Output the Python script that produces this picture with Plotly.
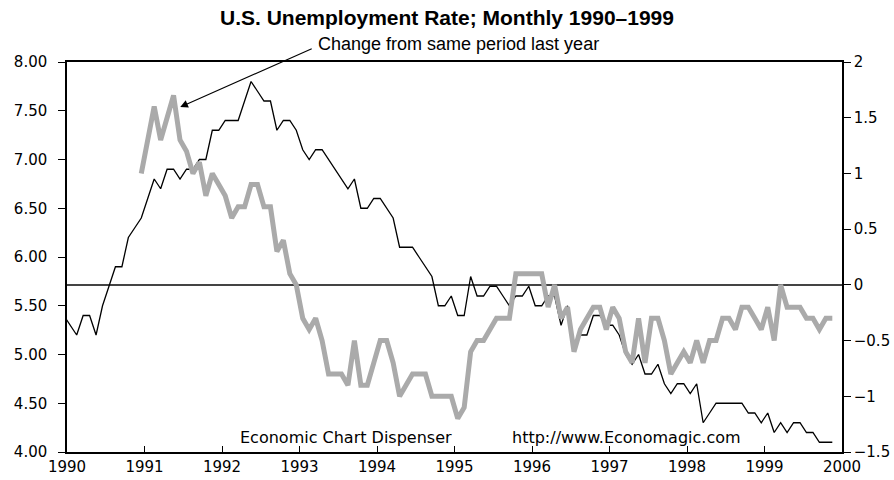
import plotly.graph_objects as go

# Monthly unemployment rate (%), Jan 1990 .. Dec 1999
rate_1990 = [5.4, 5.3, 5.2, 5.4, 5.4, 5.2, 5.5, 5.7, 5.9, 5.9, 6.2, 6.3]
rate_1991 = [6.4, 6.6, 6.8, 6.7, 6.9, 6.9, 6.8, 6.9, 6.9, 7.0, 7.0, 7.3]
rate_1992 = [7.3, 7.4, 7.4, 7.4, 7.6, 7.8, 7.7, 7.6, 7.6, 7.3, 7.4, 7.4]
rate_1993 = [7.3, 7.1, 7.0, 7.1, 7.1, 7.0, 6.9, 6.8, 6.7, 6.8, 6.5, 6.5]
rate_1994 = [6.6, 6.6, 6.5, 6.4, 6.1, 6.1, 6.1, 6.0, 5.9, 5.8, 5.5, 5.5]
rate_1995 = [5.6, 5.4, 5.4, 5.8, 5.6, 5.6, 5.7, 5.7, 5.6, 5.5, 5.6, 5.6]
rate_1996 = [5.7, 5.5, 5.5, 5.6, 5.6, 5.3, 5.5, 5.1, 5.2, 5.2, 5.4, 5.4]
rate_1997 = [5.3, 5.3, 5.2, 5.0, 4.9, 5.0, 4.8, 4.8, 4.9, 4.7, 4.6, 4.7]
rate_1998 = [4.7, 4.6, 4.7, 4.3, 4.4, 4.5, 4.5, 4.5, 4.5, 4.5, 4.4, 4.4]
rate_1999 = [4.3, 4.4, 4.2, 4.3, 4.2, 4.3, 4.3, 4.2, 4.2, 4.1, 4.1, 4.1]

# Change from same period last year (percentage points), Jan 1991 .. Dec 1999
chg_1991 = [1.0, 1.3, 1.6, 1.3, 1.5, 1.7, 1.3, 1.2, 1.0, 1.1, 0.8, 1.0]
chg_1992 = [0.9, 0.8, 0.6, 0.7, 0.7, 0.9, 0.9, 0.7, 0.7, 0.3, 0.4, 0.1]
chg_1993 = [0.0, -0.3, -0.4, -0.3, -0.5, -0.8, -0.8, -0.8, -0.9, -0.5, -0.9, -0.9]
chg_1994 = [-0.7, -0.5, -0.5, -0.7, -1.0, -0.9, -0.8, -0.8, -0.8, -1.0, -1.0, -1.0]
chg_1995 = [-1.0, -1.2, -1.1, -0.6, -0.5, -0.5, -0.4, -0.3, -0.3, -0.3, 0.1, 0.1]
chg_1996 = [0.1, 0.1, 0.1, -0.2, 0.0, -0.3, -0.2, -0.6, -0.4, -0.3, -0.2, -0.2]
chg_1997 = [-0.4, -0.2, -0.3, -0.6, -0.7, -0.3, -0.7, -0.3, -0.3, -0.5, -0.8, -0.7]
chg_1998 = [-0.6, -0.7, -0.5, -0.7, -0.5, -0.5, -0.3, -0.3, -0.4, -0.2, -0.2, -0.3]
chg_1999 = [-0.4, -0.2, -0.5, 0.0, -0.2, -0.2, -0.2, -0.3, -0.3, -0.4, -0.3, -0.3]

year_ticks = [1990, 1991, 1992, 1993, 1994, 1995, 1996, 1997, 1998, 1999, 2000]
left_ticks = [4.0, 4.5, 5.0, 5.5, 6.0, 6.5, 7.0, 7.5, 8.0]
right_ticks = [-1.5, -1.0, -0.5, 0.0, 0.5, 1.0, 1.5, 2.0]

rate = (rate_1990 + rate_1991 + rate_1992 + rate_1993 + rate_1994 +
        rate_1995 + rate_1996 + rate_1997 + rate_1998 + rate_1999)
chg = (chg_1991 + chg_1992 + chg_1993 + chg_1994 + chg_1995 +
       chg_1996 + chg_1997 + chg_1998 + chg_1999)

x_rate = [1990 + (i - 0.5) / 12 for i in range(len(rate))]
x_chg = [1991 + (i - 0.5) / 12 for i in range(len(chg))]

fig = go.Figure()
fig.add_trace(go.Scatter(x=x_rate, y=rate, mode="lines",
                         line=dict(color="black", width=1.3),
                         yaxis="y", showlegend=False))
fig.add_trace(go.Scatter(x=x_chg, y=chg, mode="lines",
                         line=dict(color="#aaaaaa", width=5),
                         yaxis="y2", showlegend=False))

tickfont = dict(family="DejaVu Sans", size=15, color="black")

fig.update_layout(
    width=894, height=480,
    margin=dict(l=67, r=52, t=62, b=28, autoexpand=False),
    paper_bgcolor="white", plot_bgcolor="white",
    title=dict(text="<b>U.S. Unemployment Rate; Monthly 1990\u20131999</b>",
               x=0.5, xref="container", y=1 - 18 / 480, yref="container",
               xanchor="center", yanchor="middle",
               font=dict(family="Liberation Sans", size=21, color="black")),
    xaxis=dict(range=[1990, 2000], tickvals=year_ticks,
               ticktext=[str(y) for y in year_ticks], automargin=False,
               showline=True, linecolor="black", linewidth=1.5, mirror=True,
               ticks="inside", ticklen=6, tickwidth=1.2, tickcolor="black",
               showgrid=False, zeroline=False, tickfont=tickfont),
    yaxis=dict(range=[4, 8], tickvals=left_ticks, tickformat=".2f",
               automargin=False,
               showline=True, linecolor="black", linewidth=1.5,
               ticks="outside", ticklen=7, tickwidth=1.2, tickcolor="black",
               ticklabelstandoff=8,
               showgrid=False, zeroline=False, tickfont=tickfont),
    yaxis2=dict(range=[-1.5, 2], tickvals=right_ticks, overlaying="y",
                side="right", automargin=False,
                showline=True, linecolor="black", linewidth=1.5,
                ticks="outside", ticklen=7, tickwidth=1.2, tickcolor="black",
                showgrid=False, zeroline=True, zerolinecolor="#444444",
                zerolinewidth=1.5, tickfont=tickfont),
    annotations=[
        dict(text="Change from same period last year", xref="paper", yref="paper",
             x=0.5047, y=1.046, xanchor="center", yanchor="middle", showarrow=False,
             font=dict(family="Liberation Sans", size=18, color="black")),
        dict(text="", xref="paper", yref="paper", x=0.1461, y=0.8846,
             ax=133, ay=-59, showarrow=True, arrowhead=2, arrowsize=1.4,
             arrowwidth=1.1, arrowcolor="black"),
        dict(text="Economic Chart Dispenser", xref="paper", yref="paper",
             x=0.360, y=0.038, xanchor="center", yanchor="middle", showarrow=False,
             font=dict(family="DejaVu Sans", size=16, color="black")),
        dict(text="http://www.Economagic.com", xref="paper", yref="paper",
             x=0.7215, y=0.038, xanchor="center", yanchor="middle", showarrow=False,
             font=dict(family="DejaVu Sans", size=16, color="black")),
    ],
)

fig.write_html("out.html",
               config={"displayModeBar": False},
               post_script="document.body.style.margin='0';"
                           "document.body.style.overflow='hidden';")
